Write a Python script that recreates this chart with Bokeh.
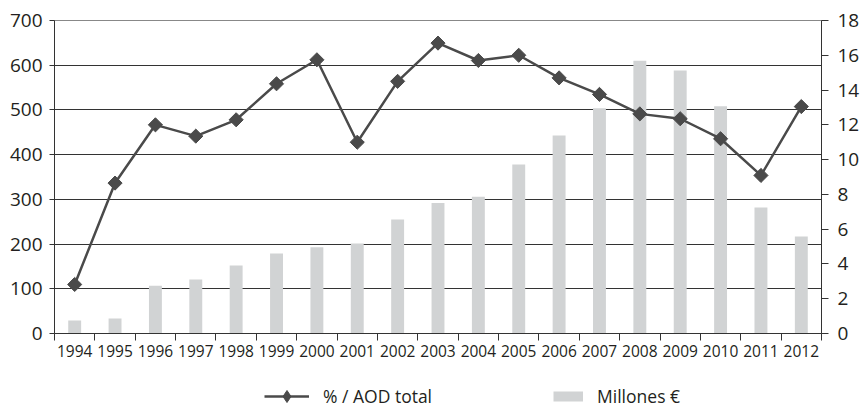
import math
from bokeh.plotting import figure
from bokeh.layouts import column
from bokeh.models import Range1d, LinearAxis, FixedTicker, Legend, LegendItem
from bokeh.embed import file_html
from bokeh.resources import INLINE

years = [1994, 1995, 1996, 1997, 1998, 1999, 2000, 2001, 2002, 2003,
         2004, 2005, 2006, 2007, 2008, 2009, 2010, 2011, 2012]
millones = [29, 33.5, 107, 121, 152, 179, 193, 201, 255, 292,
            306, 378, 443, 504, 610, 588, 508, 282, 217]
pct_aod = [2.82, 8.65, 12.0, 11.35, 12.29, 14.36, 15.74, 11.0, 14.5, 16.7,
           15.7, 16.0, 14.7, 13.75, 12.63, 12.35, 11.2, 9.09, 13.05]
left_ticks = [0, 100, 200, 300, 400, 500, 600, 700]
right_ticks = [0, 2, 4, 6, 8, 10, 12, 14, 16, 18]

TXT = "#231f20"
AX = "#333333"
LINE = "#4a4a4a"
BAR = "#d1d3d4"
FONT = "Open Sans"

# ---------------- main chart ----------------
p = figure(width=862, height=373, output_backend="svg", toolbar_location=None,
           x_range=Range1d(years[0] - 0.5, years[-1] + 0.5),
           y_range=Range1d(left_ticks[0], left_ticks[-1]),
           min_border_left=54, min_border_right=39, min_border_top=20,
           min_border_bottom=40)
p.extra_y_ranges = {"right": Range1d(right_ticks[0], right_ticks[-1])}
p.outline_line_color = "#888888"
p.background_fill_color = "white"
p.border_fill_color = "white"

bars = p.vbar(x=years, top=millones, width=0.32, fill_color=BAR, line_color=None)
ln = p.line(years, pct_aod, y_range_name="right", line_color=LINE, line_width=2.5)
mk = p.scatter(years, pct_aod, y_range_name="right", marker="square",
               angle=math.pi / 4, size=10, fill_color=LINE, line_color=LINE)

p.xgrid.visible = False
p.ygrid.ticker = FixedTicker(ticks=left_ticks)
p.ygrid.grid_line_color = AX
p.ygrid.grid_line_width = 1

boundaries = [y - 0.5 for y in years] + [years[-1] + 0.5]
xa = p.xaxis[0]
xa.ticker = FixedTicker(ticks=years, minor_ticks=boundaries)
xa.major_tick_line_color = None
xa.minor_tick_out = 7
xa.minor_tick_in = 0
xa.minor_tick_line_color = AX
xa.axis_line_color = AX
xa.major_label_text_font = FONT
xa.major_label_text_font_size = "15.5px"
xa.major_label_text_color = TXT
xa.major_label_standoff = 4

ya = p.yaxis[0]
ya.ticker = FixedTicker(ticks=left_ticks)
ya.major_tick_out = 5
ya.major_tick_in = 0
ya.minor_tick_line_color = None
ya.major_tick_line_color = AX
ya.axis_line_color = AX
ya.major_label_text_font = FONT
ya.major_label_text_font_size = "19px"
ya.major_label_text_color = TXT
ya.major_label_standoff = 7

ra = LinearAxis(y_range_name="right", ticker=FixedTicker(ticks=right_ticks))
ra.major_tick_out = 7
ra.major_tick_in = 0
ra.minor_tick_line_color = None
ra.major_tick_line_color = AX
ra.axis_line_color = AX
ra.major_label_text_font = FONT
ra.major_label_text_font_size = "19px"
ra.major_label_text_color = TXT
ra.major_label_standoff = 9
p.add_layout(ra, "right")

# ---------------- legend strip ----------------
lf = figure(width=862, height=44, output_backend="svg", toolbar_location=None,
            x_range=Range1d(0, 1), y_range=Range1d(0, 1),
            x_axis_location=None, y_axis_location=None, title=None,
            min_border=0, min_border_left=0, min_border_right=0,
            min_border_top=0, min_border_bottom=0)
lf.grid.visible = False
lf.outline_line_color = None
lf.background_fill_color = "white"
lf.border_fill_color = "white"
# legend glyph renderers (their data lies outside this strip's ranges)
l_line = lf.line(years, pct_aod, line_color=LINE, line_width=2.5)
l_mark = lf.scatter(years, pct_aod, marker="diamond", fill_color=LINE,
                    line_color=LINE)
l_bar = lf.line(years, millones, line_color=BAR, line_width=10,
                line_dash="0 15 30 100")

leg = Legend(items=[LegendItem(label="% / AOD total", renderers=[l_line, l_mark]),
                    LegendItem(label="Millones €", renderers=[l_bar])],
             orientation="horizontal", location=(210, 6),
             glyph_width=45, glyph_height=30, label_height=30,
             label_standoff=14, spacing=106, padding=0, margin=0,
             border_line_color=None, background_fill_alpha=0,
             label_text_font=FONT, label_text_font_size="17.5px",
             label_text_color=TXT)
lf.add_layout(leg)

page = column(p, lf, spacing=0)
open("out.html", "w").write(file_html(page, INLINE))
